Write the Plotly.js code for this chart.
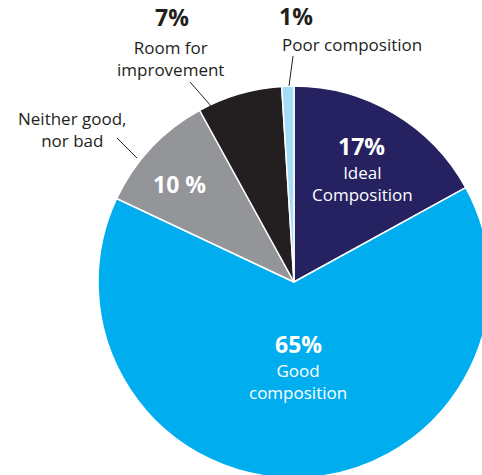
<!DOCTYPE html>
<html><head><meta charset="utf-8">
<script src="https://cdn.plot.ly/plotly-3.0.1.min.js"></script>
<style>html,body{margin:0;padding:0;overflow:hidden;background:#fff;width:482px;height:475px}</style>
</head><body>
<div id="chart" style="width:500px;height:500px"></div>
<script>
const categories = ["Ideal Composition", "Good composition", "Neither good, nor bad", "Room for improvement", "Poor composition"];
const values = [17, 65, 10, 7, 1];
const pctLabels = ["17%", "65%", "10 %", "7%", "1%"];
const nameLines = [["Ideal", "Composition"], ["Good", "composition"], [], ["Room for", "improvement"], ["Poor composition"]];
const outsideName = ["", "", "Neither good,<br>nor bad", "", ""];

const W = 500, H = 500;
const cx = 294, cy = 282, R = 196;
const px = x => x / W, py = y => 1 - y / H;
const FONT = "Open Sans, Lato, sans-serif";

const trace = {
  type: "pie",
  labels: categories,
  values: values,
  sort: false,
  direction: "clockwise",
  rotation: 0,
  textinfo: "none",
  hoverinfo: "label+percent",
  marker: {colors: ["#262262", "#00aeef", "#939598", "#231f20", "#a5dbf5"], line: {color: "#ffffff", width: 1.5}},
  domain: {x: [px(cx - R), px(cx + R)], y: [py(cy + R), py(cy - R)]},
  showlegend: false
};

function ann(x, y, text, size, color, bold) {
  return {xref: "paper", yref: "paper", x: px(x), y: py(y), xanchor: "center", yanchor: "middle",
    text: bold ? "<b>" + text + "</b>" : text, showarrow: false, borderpad: 0,
    font: {family: FONT, size: size, color: color}};
}
const annotations = [
  ann(361, 146, pctLabels[0], 23, "#ffffff", true),
  ann(362, 183.5, nameLines[0].join("<br>"), 17, "#ffffff", false),
  ann(298, 344, pctLabels[1], 23, "#ffffff", true),
  ann(298, 381.5, nameLines[1].join("<br>"), 17, "#ffffff", false),
  ann(179, 184, pctLabels[2], 23, "#ffffff", true),
  ann(172, 17, pctLabels[3], 23, "#231f20", true),
  ann(170, 58.5, nameLines[3].join("<br>"), 17, "#231f20", false),
  ann(296, 16, pctLabels[4], 23, "#231f20", true),
  ann(352, 45, nameLines[4][0], 17, "#231f20", false),
  ann(72, 129, outsideName[2], 17, "#231f20", false)
];

function line(x0, y0, x1, y1) {
  return {type: "line", xref: "paper", yref: "paper", x0: px(x0), y0: py(y0), x1: px(x1), y1: py(y1),
    line: {color: "#231f20", width: 1}};
}
const shapes = [line(117, 138, 137, 158), line(190, 82, 211, 106), line(293, 56, 289, 86)];

Plotly.newPlot("chart", [trace], {
  width: W, height: H, margin: {l: 0, r: 0, t: 0, b: 0},
  paper_bgcolor: "#ffffff", plot_bgcolor: "#ffffff",
  annotations: annotations, shapes: shapes
}, {displayModeBar: false, staticPlot: true});
</script>
</body></html>
